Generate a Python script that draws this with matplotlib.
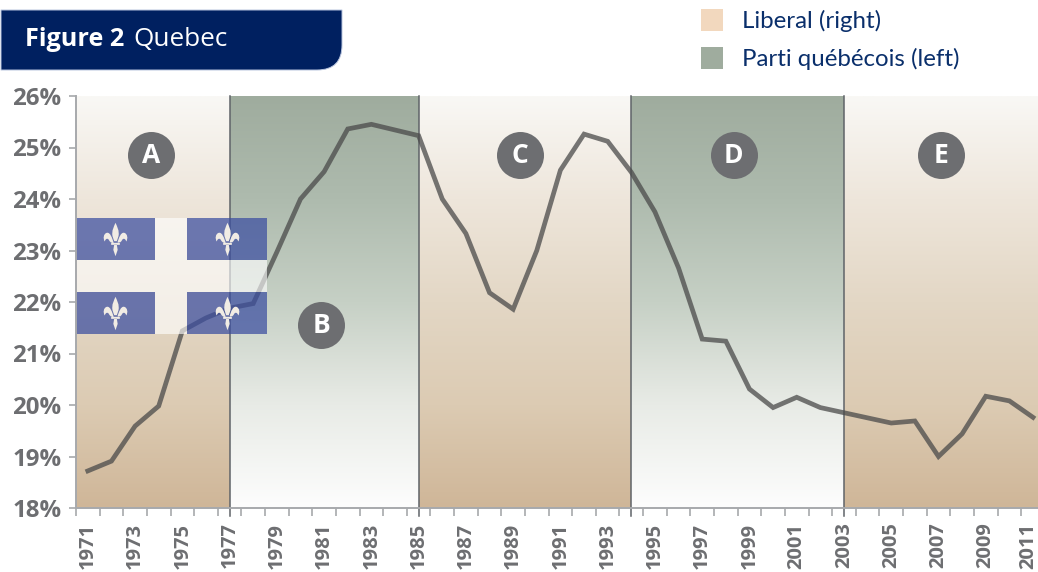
import numpy as np
import matplotlib
matplotlib.use('Agg')
import matplotlib.pyplot as plt
from matplotlib.colors import LinearSegmentedColormap
from matplotlib.patches import Rectangle, PathPatch
from matplotlib.path import Path
from matplotlib.transforms import ScaledTranslation

#data
years = list(range(1971, 2012))
share = [18.72, 18.91, 19.59, 19.98, 21.44, 21.69, 21.88, 21.97, 22.97, 24.0,
         24.53, 25.36, 25.45, 25.34, 25.23, 24.0, 23.33, 22.18, 21.86, 23.0,
         24.56, 25.26, 25.12, 24.52, 23.75, 22.66, 21.28, 21.24, 20.31, 19.95,
         20.15, 19.95, 19.85, 19.75, 19.65, 19.69, 19.0, 19.44, 20.17, 20.08, 19.76]
ticks_y = [18, 19, 20, 21, 22, 23, 24, 25, 26]
band_years = [1971, 1977, 1985, 1994, 2003, 2011]
band_party = ['L', 'PQ', 'L', 'PQ', 'L']
legend_labels = ['Liberal (right)', 'Parti québécois (left)']
letters = ['A', 'B', 'C', 'D', 'E']
letter_x = [2.67, 9.87, 18.28, 27.34, 36.1]
letter_y = [24.85, 21.55, 24.85, 24.85, 24.85]

W, H = 1038, 572
GREY = '#6d6e71'
NAVY = '#002060'
FONT = 'Open Sans'
plt.rcParams['font.family'] = [FONT, 'DejaVu Sans']

#fleur-de-lis marker for the flag
def fleur():
    C, L, M, Z = Path.CURVE4, Path.LINETO, Path.MOVETO, Path.CLOSEPOLY
    v = [(0, 1), (.1, .75), (.24, .55), (.18, .2), (.08, -.1), (-.08, -.1), (-.18, .2), (-.24, .55), (-.1, .75), (0, 1), (0, 1)]
    c = [M, C, C, C, L, L, L, C, C, C, Z]
    for sx in [1, -1]:
        v += [(sx*p[0], p[1]) for p in [(.11, -.2), (.2, .1), (.32, .45), (.52, .4), (.72, .35), (.76, .05), (.64, -.12),
                                        (.6, .05), (.48, .1), (.4, -.02), (.34, -.12), (.32, -.2), (.11, -.2), (.11, -.2)]]
        c += [M, C, C, C, C, C, C, C, C, C, C, C, C, Z]
    v += [(-.26, -.32), (.26, -.32), (.26, -.2), (-.26, -.2), (-.26, -.32)]
    c += [M, L, L, L, Z]
    v += [(-.08, -.32), (.08, -.32), (.13, -.62), (0, -1), (-.13, -.62), (-.08, -.32)]
    c += [M, L, L, L, L, Z]
    return Path(v, c)

fig = plt.figure(figsize=(W/100, H/100), dpi=100)
ax = fig.add_axes([76/W, (H-508)/H, (W-76)/W, 412/H])

tan_map = LinearSegmentedColormap.from_list('tan', ['#f9f8f5', '#eee6db', '#e3d7c5', '#dccbb3', '#cfb698'])
green_map = LinearSegmentedColormap.from_list('grn', ['#9fac9e', '#aebbae', '#c6d0c5', '#e8ebe6', '#fdfdfd'])
grad = np.linspace(0, 1, 256).reshape(-1, 1)

idx = [y-1971 for y in years]
xmin, xmax = -0.5, -0.5+(W-76)/23.63

#gradient bands, one per government
for i in range(len(band_party)):
    x0 = band_years[i]-1971 if i > 0 else xmin
    x1 = band_years[i+1]-1971 if i < len(band_party)-1 else xmax
    cmap = tan_map if band_party[i] == 'L' else green_map
    ax.imshow(grad, cmap=cmap, extent=[x0, x1, 18, 26], aspect='auto', zorder=1, vmin=0, vmax=1)
    if i > 0:
        ax.axvline(x0, ymin=-0.019, ymax=1, color='#5f6368', lw=1.1, zorder=2, clip_on=False)

ax.plot(idx, share, color='#4a4a4a', alpha=0.75, lw=3.4, zorder=3, solid_joinstyle='miter')

#flag on top of the line: pale cross and four blue squares
fx = [-0.5, 2.84, 4.2, 7.58]
fy = [21.38, 22.19, 22.82, 23.63]
ax.add_patch(Rectangle((fx[0], fy[1]), fx[3]-fx[0], fy[2]-fy[1], fc='white', alpha=0.62, ec='none', zorder=4))
for k in [0, 2]:
    ax.add_patch(Rectangle((fx[1], fy[k]), fx[2]-fx[1], fy[k+1]-fy[k], fc='white', alpha=0.62, ec='none', zorder=4))
for j in [0, 2]:
    for k in [0, 2]:
        ax.add_patch(Rectangle((fx[j], fy[k]), fx[j+1]-fx[j], fy[k+1]-fy[k], fc='#3a4da0', alpha=0.72, ec='none', zorder=5))
        ax.scatter((fx[j]+fx[j+1])/2, (fy[k]+fy[k+1])/2, marker=fleur(), s=580, color='#f1ece4', lw=0, zorder=6)

#letter circles
ax.scatter(letter_x, letter_y, s=1145, color=GREY, lw=0, zorder=7)
for t, x, y in zip(letters, letter_x, letter_y):
    ax.text(x, y-0.01, t, color='white', fontsize=19, fontweight='bold', ha='center', va='center', zorder=8)

ax.set_yticks(ticks_y)
ax.set_yticklabels(['%d%%' % v for v in ticks_y], fontsize=17.3, fontweight='bold', color=GREY)
ax.tick_params(axis='y', length=5, width=1.2, color='#a7a9ac', pad=5.5)
ax.set_xticks(idx[::2])
ax.set_xticklabels([str(y) for y in years[::2]], rotation=90, fontsize=14.5, fontweight='bold', color=GREY)
ax.set_xticks(np.arange(-0.5, 41, 1), minor=True)
ax.tick_params(axis='x', which='major', length=0, pad=10.5)
ax.tick_params(axis='x', which='minor', length=5.5, width=1.2, color='#a7a9ac')
#the last year label would run off the right edge, nudge it in
last = ax.get_xticklabels()[-1]
last.set_transform(last.get_transform()+ScaledTranslation(-5/100, 0, fig.dpi_scale_trans))
#set_xticks widens the view, so the limits come after it
ax.set_xlim(xmin, xmax)
ax.set_ylim(18, 26)
for s in ['top', 'right']:
    ax.spines[s].set_visible(False)
for s in ['left', 'bottom']:
    ax.spines[s].set_color('#a7a9ac')
    ax.spines[s].set_linewidth(1.4)
    ax.spines[s].set_zorder(9)

#title tab, square except for the lower right corner
x0, x1, y0, y1, r = 1/W, 342/W, (H-70)/H, (H-10)/H, 25
verts = [(x0, y1), (x1, y1), (x1, y0+r/H), (x1, y0), (x1-r/W, y0), (x0, y0), (x0, y1)]
codes = [Path.MOVETO, Path.LINETO, Path.LINETO, Path.CURVE3, Path.CURVE3, Path.LINETO, Path.CLOSEPOLY]
fig.add_artist(PathPatch(Path(verts, codes), transform=fig.transFigure, fc=NAVY, ec='#b8c4de', lw=0.7))
fig.text(25/W, (H-46)/H, 'Figure 2', color='white', fontsize=18.2, fontweight='bold')
fig.text(133/W, (H-46)/H, 'Quebec', color='white', fontsize=18.8)

#legend
for lab, c, top in zip(legend_labels, ['#f2d8be', '#9fac9e'], [9, 47]):
    fig.add_artist(Rectangle((701/W, (H-top-22)/H), 22/W, 22/H, transform=fig.transFigure, fc=c, ec='none'))
    fig.text(742/W, (H-top-19)/H, lab, color='#0a2f6b', fontsize=17.3, family='Lato')

fig.savefig('out.png', dpi=100)
